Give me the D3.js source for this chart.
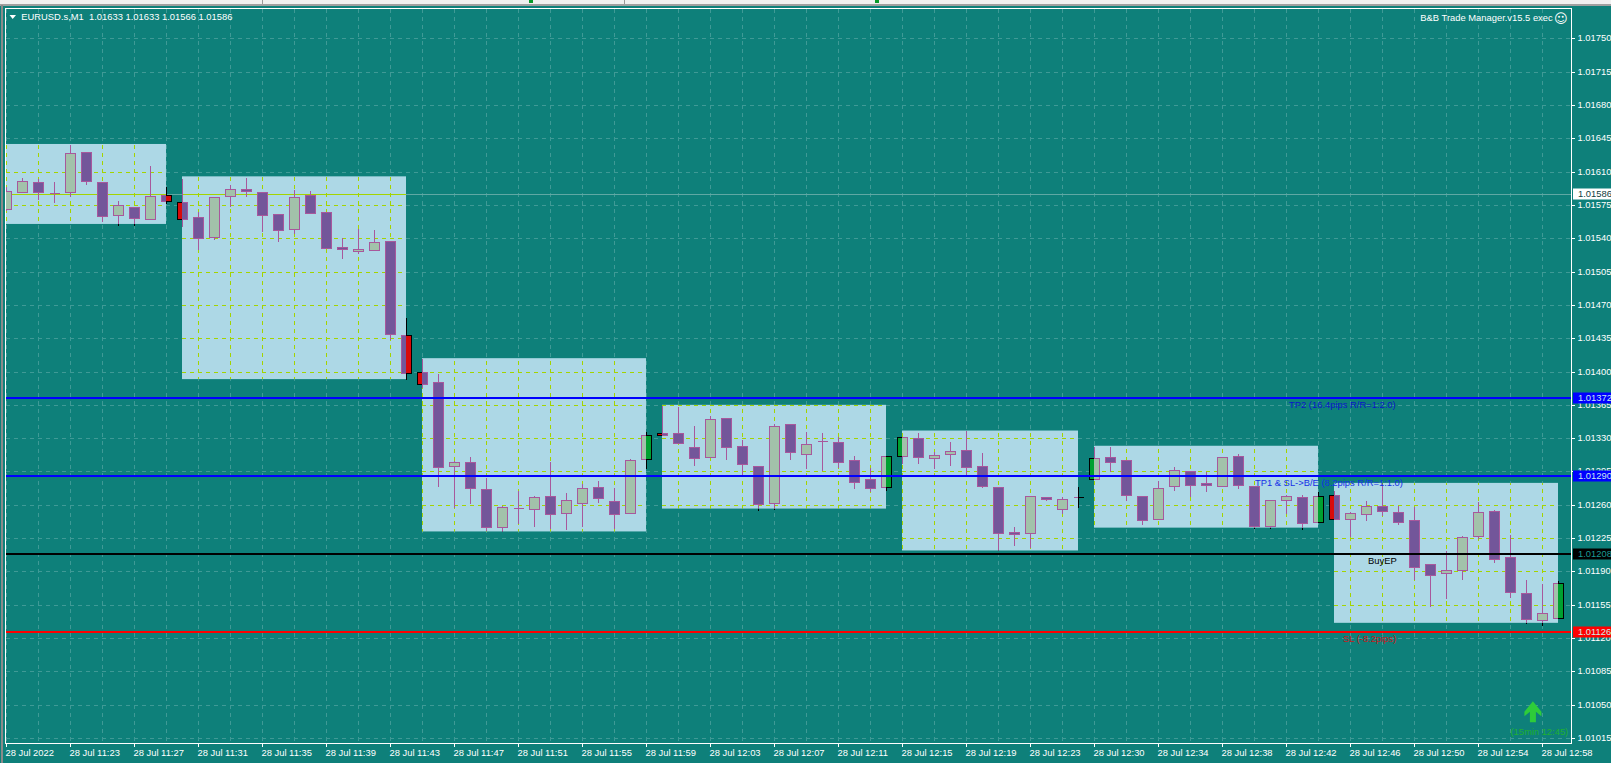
<!DOCTYPE html>
<html>
<head>
<meta charset="utf-8">
<script src="https://cdn.jsdelivr.net/npm/d3@7"></script>
<style>
    html, body { margin: 0; padding: 0; background: #0e807a; overflow: hidden; }
    svg { display: block; }
    text { font-family: "Liberation Sans", sans-serif; font-size: 9.4px; }
</style>
</head>
<body>
<svg id="chart" width="1611" height="763"></svg>
<script>
// M1 candles, one entry per bar
const opens = [1.01571,1.01589,1.01599,1.01588,1.01589,1.01631,1.01599,1.01564,1.01573,1.01560,
    1.01585,1.01578,1.01562,1.01541,1.01584,1.01592,1.01589,1.01565,1.01550,1.01585,
    1.01568,1.01531,1.01527,1.01528,1.01537,1.01438,1.01399,1.01389,1.01301,1.01305,
    1.01277,1.01237,1.01257,1.01256,1.01269,1.01251,1.01262,1.01279,1.01264,1.01251,
    1.01308,1.01335,1.01335,1.01321,1.01310,1.01351,1.01322,1.01301,1.01262,1.01345,
    1.01313,1.01327,1.01326,1.01307,1.01287,1.01279,1.01311,1.01330,1.01309,1.01313,
    1.01318,1.01301,1.01279,1.01231,1.01230,1.01268,1.01256,1.01268,1.01287,1.01310,
    1.01307,1.01269,1.01245,1.01280,1.01296,1.01283,1.01280,1.01311,1.01280,1.01238,
    1.01265,1.01268,1.01242,1.01270,1.01245,1.01250,1.01259,1.01252,1.01244,1.01198,
    1.01188,1.01191,1.01227,1.01253,1.01205,1.01167,1.01139,1.01141];
const highs = [1.01595,1.01604,1.01603,1.01600,1.01639,1.01631,1.01599,1.01580,1.01573,1.01617,
    1.01595,1.01603,1.01569,1.01584,1.01597,1.01604,1.01589,1.01565,1.01592,1.01591,
    1.01568,1.01541,1.01551,1.01550,1.01537,1.01457,1.01414,1.01398,1.01307,1.01311,
    1.01289,1.01260,1.01276,1.01270,1.01306,1.01273,1.01283,1.01286,1.01279,1.01309,
    1.01337,1.01365,1.01364,1.01344,1.01354,1.01351,1.01329,1.01301,1.01346,1.01345,
    1.01338,1.01336,1.01332,1.01312,1.01300,1.01311,1.01331,1.01336,1.01316,1.01327,
    1.01339,1.01315,1.01279,1.01238,1.01269,1.01268,1.01269,1.01280,1.01322,1.01322,
    1.01307,1.01269,1.01286,1.01301,1.01296,1.01296,1.01310,1.01314,1.01280,1.01266,
    1.01271,1.01271,1.01274,1.01276,1.01253,1.01265,1.01283,1.01260,1.01259,1.01198,
    1.01212,1.01228,1.01264,1.01256,1.01229,1.01182,1.01178,1.01181];
const lows = [1.01570,1.01589,1.01581,1.01578,1.01584,1.01597,1.01558,1.01554,1.01554,1.01560,
    1.01577,1.01553,1.01529,1.01539,1.01574,1.01584,1.01548,1.01537,1.01546,1.01567,
    1.01530,1.01519,1.01525,1.01528,1.01434,1.01392,1.01384,1.01280,1.01258,1.01262,
    1.01233,1.01232,1.01241,1.01238,1.01236,1.01235,1.01238,1.01263,1.01236,1.01251,
    1.01299,1.01333,1.01325,1.01302,1.01310,1.01308,1.01290,1.01254,1.01256,1.01308,
    1.01299,1.01297,1.01300,1.01278,1.01274,1.01275,1.01304,1.01304,1.01299,1.01302,
    1.01290,1.01279,1.01212,1.01218,1.01216,1.01265,1.01251,1.01258,1.01287,1.01295,
    1.01265,1.01240,1.01245,1.01276,1.01269,1.01274,1.01280,1.01278,1.01236,1.01236,
    1.01251,1.01235,1.01242,1.01245,1.01227,1.01244,1.01249,1.01240,1.01182,1.01154,
    1.01162,1.01182,1.01225,1.01200,1.01163,1.01136,1.01134,1.01141];
const closes = [1.01590,1.01600,1.01589,1.01588,1.01630,1.01600,1.01563,1.01575,1.01561,1.01584,
    1.01579,1.01560,1.01540,1.01583,1.01592,1.01590,1.01564,1.01549,1.01583,1.01567,
    1.01530,1.01529,1.01529,1.01536,1.01439,1.01398,1.01387,1.01300,1.01305,1.01278,
    1.01237,1.01258,1.01257,1.01268,1.01250,1.01265,1.01278,1.01267,1.01250,1.01307,
    1.01333,1.01333,1.01325,1.01309,1.01350,1.01321,1.01303,1.01261,1.01343,1.01315,
    1.01324,1.01327,1.01305,1.01284,1.01278,1.01311,1.01331,1.01310,1.01312,1.01317,
    1.01300,1.01280,1.01230,1.01229,1.01269,1.01266,1.01266,1.01268,1.01309,1.01305,
    1.01270,1.01244,1.01278,1.01297,1.01281,1.01281,1.01310,1.01281,1.01238,1.01265,
    1.01269,1.01241,1.01269,1.01245,1.01251,1.01259,1.01253,1.01242,1.01195,1.01186,
    1.01192,1.01226,1.01252,1.01203,1.01168,1.01140,1.01146,1.01178];

// 15 minute range boxes
const boxStart = [-1, 11, 26, 41, 56, 68, 83];
const boxEnd = [10, 25, 40, 55, 67, 82, 97];
const boxHigh = [1.01639, 1.01605, 1.01414, 1.01365, 1.01338, 1.01322, 1.01283];
const boxLow = [1.01555, 1.01392, 1.01232, 1.01256, 1.01212, 1.01236, 1.01136];

// trade levels
const levelPrices = [1.01372, 1.01290, 1.01208, 1.01126];
const levelColors = ["#0000ff", "#0000ff", "#000000", "#ff0000"];
const levelTagText = ["#c8e6f0", "#c8e6f0", "#1a9a94", "#c8f0e8"];
const levelNames = ["TP2 (16.4pips R/R=1:2.0)", "TP1 & SL->B/E (8.2pips R/R=1:1.0)", "BuyEP", "SL (-8.2pips)"];
const levelNameBar = [80.16, 78.03, 85.1, 83.53];
const levelNameColors = ["#0a14c8", "#1430e6", "#000000", "#c81818"];
const bidPrice = 1.01586;

const priceTicks = [1.01750,1.01715,1.01680,1.01645,1.01610,1.01575,1.01540,1.01505,1.01470,1.01435,
    1.01400,1.01365,1.01330,1.01295,1.01260,1.01225,1.01190,1.01155,1.01120,1.01085,1.01050,1.01015];
const timeTicks = [0,4,8,12,16,20,24,28,32,36,40,44,48,52,56,60,64,68,72,76,80,84,88,92,96];
const timeLabels = ["28 Jul 2022","28 Jul 11:23","28 Jul 11:27","28 Jul 11:31","28 Jul 11:35","28 Jul 11:39",
    "28 Jul 11:43","28 Jul 11:47","28 Jul 11:51","28 Jul 11:55","28 Jul 11:59","28 Jul 12:03","28 Jul 12:07",
    "28 Jul 12:11","28 Jul 12:15","28 Jul 12:19","28 Jul 12:23","28 Jul 12:30","28 Jul 12:34","28 Jul 12:38",
    "28 Jul 12:42","28 Jul 12:46","28 Jul 12:50","28 Jul 12:54","28 Jul 12:58"];
const gridBars = d3.range(0, 98, 2);

const plotLeft = 5.5, plotRight = 1571.5, plotTop = 8.5, plotBottom = 743.5;

const svg = d3.select("#chart");
const x = d3.scaleLinear().domain([0, 97]).range([6.5, 1558.5]);
const y = d3.scaleLinear().domain([1.0175, 1.0105]).range([38.3, 704.7]);
const py = v => Math.round(y(v)) + 0.5;

const candles = opens.map((o, i) => ({ i, o, h: highs[i], l: lows[i], c: closes[i] }));
const boxes = boxStart.map((s, i) => ({
    x0: x(s) - 0.5, x1: x(boxEnd[i]) - 0.5, y0: y(boxHigh[i]), y1: y(boxLow[i])
}));

// window chrome around the chart
svg.append("rect").attr("width", 1611).attr("height", 4).attr("fill", "#f0f0f0");
svg.append("rect").attr("y", 4).attr("width", 1611).attr("height", 2).attr("fill", "#a0a0a0");
svg.append("rect").attr("x", 1).attr("y", 5).attr("width", 2).attr("height", 758).attr("fill", "#8a8a8a");
svg.append("g").selectAll("rect").data([529, 875]).join("rect")
    .attr("x", d => d).attr("y", 0).attr("width", 4).attr("height", 3).attr("fill", "#0a9a2a");
svg.append("g").selectAll("rect").data([262, 624]).join("rect")
    .attr("x", d => d).attr("y", 0).attr("width", 1).attr("height", 4).attr("fill", "#999");

const defs = svg.append("defs");
const rectPath = b => `M${b.x0},${b.y0}H${b.x1}V${b.y1}H${b.x0}Z`;
defs.append("clipPath").attr("id", "plot").append("rect")
    .attr("x", plotLeft + 0.5).attr("y", plotTop + 0.5)
    .attr("width", plotRight - plotLeft - 1).attr("height", plotBottom - plotTop - 1);
defs.append("clipPath").attr("id", "inside").selectAll("rect").data(boxes).join("rect")
    .attr("x", d => d.x0).attr("y", d => d.y0)
    .attr("width", d => d.x1 - d.x0).attr("height", d => d.y1 - d.y0);
defs.append("clipPath").attr("id", "outside").append("path")
    .attr("clip-rule", "evenodd")
    .attr("d", `M0,0H1611V763H0Z` + boxes.map(rectPath).join(""));

const plot = svg.append("g").attr("clip-path", "url(#plot)");
plot.append("g").selectAll("rect").data(boxes).join("rect")
    .attr("x", d => d.x0).attr("y", d => d.y0)
    .attr("width", d => d.x1 - d.x0).attr("height", d => d.y1 - d.y0)
    .attr("fill", "#add8e6");

// the terminal blends colours inside a box, so everything is drawn once per palette
function drawLayer(clipId, pal) {
    const g = plot.append("g").attr("clip-path", `url(#${clipId})`).attr("shape-rendering", "crispEdges");

    g.append("g").selectAll("line").data(priceTicks).join("line")
        .attr("x1", plotLeft).attr("x2", plotRight)
        .attr("y1", d => py(d)).attr("y2", d => py(d))
        .attr("stroke", pal.grid).attr("stroke-dasharray", "4,4");
    g.append("g").selectAll("line").data(gridBars).join("line")
        .attr("x1", d => x(d)).attr("x2", d => x(d))
        .attr("y1", plotTop).attr("y2", plotBottom)
        .attr("stroke", pal.grid).attr("stroke-dasharray", "4,4");

    g.append("line").attr("x1", plotLeft).attr("x2", plotRight)
        .attr("y1", py(bidPrice)).attr("y2", py(bidPrice)).attr("stroke", pal.bid);

    g.append("g").selectAll("line").data(candles).join("line")
        .attr("x1", d => x(d.i)).attr("x2", d => x(d.i))
        .attr("y1", d => py(d.h)).attr("y2", d => py(d.l))
        .attr("stroke", pal.edge);
    g.append("g").selectAll("path").data(candles).join("path")
        .attr("d", d => {
            const x0 = x(d.i) - 5, x1 = x(d.i) + 5;
            return `M${x0},${py(d.o)}H${x1}V${py(d.c)}H${x0}Z`;
        })
        .attr("fill", d => d.c >= d.o ? pal.up : pal.down)
        .attr("stroke", pal.edge);
}
drawLayer("outside", { grid: "#3f9a96", bid: "#5fa8a4", edge: "#000000", up: "#00a030", down: "#d80a0a" });
drawLayer("inside", { grid: "#a4d400", bid: "#a4d400", edge: "#a8589c", up: "#a2c2aa", down: "#73569a" });

// trade levels
plot.append("g").selectAll("line").data(levelPrices).join("line")
    .attr("x1", plotLeft).attr("x2", plotRight)
    .attr("y1", d => y(d)).attr("y2", d => y(d))
    .attr("stroke", (d, i) => levelColors[i]).attr("stroke-width", 2)
    .attr("shape-rendering", "crispEdges");
svg.append("g").selectAll("text").data(levelNames).join("text")
    .attr("x", (d, i) => x(levelNameBar[i]))
    .attr("y", (d, i) => y(levelPrices[i]) + 6)
    .attr("dy", "0.36em")
    .attr("fill", (d, i) => levelNameColors[i])
    .text(d => d);

// frame
svg.append("rect").attr("x", plotLeft).attr("y", plotTop)
    .attr("width", plotRight - plotLeft).attr("height", plotBottom - plotTop)
    .attr("fill", "none").attr("stroke", "#fff").attr("shape-rendering", "crispEdges");

// axes
const yAxis = d3.axisRight(y).tickValues(priceTicks).tickFormat(d3.format(".5f"))
    .tickSize(3).tickPadding(3).offset(0);
const xAxis = d3.axisBottom(x).tickValues(timeTicks).tickFormat((d, i) => timeLabels[i])
    .tickSize(3).tickPadding(3).offset(0);

const yG = svg.append("g").attr("transform", `translate(${plotRight},0)`).call(yAxis);
yG.select(".domain").remove();
yG.selectAll("line").attr("stroke", "#fff").attr("transform", "translate(0,0.5)").attr("shape-rendering", "crispEdges");
yG.selectAll("text").attr("fill", "#fff").style("font-family", "Liberation Sans").style("font-size", "9.4px");

const xG = svg.append("g").attr("transform", `translate(0,${plotBottom})`).call(xAxis);
xG.select(".domain").remove();
xG.selectAll("line").attr("stroke", "#fff").attr("shape-rendering", "crispEdges");
xG.selectAll("text").attr("fill", "#fff").attr("text-anchor", "start").attr("x", -1)
    .style("font-family", "Liberation Sans").style("font-size", "9.4px");

// price tags on the axis
const tags = levelPrices.map((p, i) => ({ p, bg: levelColors[i], fg: levelTagText[i] }))
    .concat([{ p: bidPrice, bg: "#ffffff", fg: "#10403e" }]);
const tag = svg.append("g").selectAll("g").data(tags).join("g")
    .attr("transform", d => `translate(${plotRight + 1.5},${Math.round(y(d.p))})`);
tag.append("rect").attr("y", -5.5).attr("width", 38).attr("height", 11).attr("fill", d => d.bg);
tag.append("text").attr("x", 5).attr("dy", "0.36em").attr("fill", d => d.fg)
    .text(d => d3.format(".5f")(d.p));

// header
svg.append("path").attr("d", "M9.5,15H16L12.7,19Z").attr("fill", "#fff");
svg.append("text").attr("x", 21.3).attr("y", 16.7).attr("dy", "0.36em").attr("fill", "#fff")
    .attr("xml:space", "preserve").text("EURUSD.s,M1  1.01633 1.01633 1.01566 1.01586");
svg.append("text").attr("x", 1552.7).attr("y", 18).attr("dy", "0.36em").attr("fill", "#fff")
    .attr("text-anchor", "end").text("B&B Trade Manager.v15.5 exec");
svg.append("text").attr("x", 1560.7).attr("y", 18).attr("dy", "0.36em").attr("fill", "#fff")
    .attr("text-anchor", "middle").style("font-family", "DejaVu Sans").style("font-size", "13px").text("\u263A");

// 15 minute entry signal
const signalBar = 95.4, signalPrice = 1.01050;
svg.append("path")
    .attr("transform", `translate(${x(signalBar)},${y(signalPrice)})`)
    .attr("d", "M0,-3.5L8.5,7V11.5L3,7V17.5H-3V7L-8.5,11.5V7Z")
    .attr("fill", "#2ecc3a");
svg.append("text").attr("x", x(signalBar) - 22.5).attr("y", 732).attr("dy", "0.36em").attr("fill", "#1fb030")
    .text("(15min 12:45)");
</script>
</body>
</html>
